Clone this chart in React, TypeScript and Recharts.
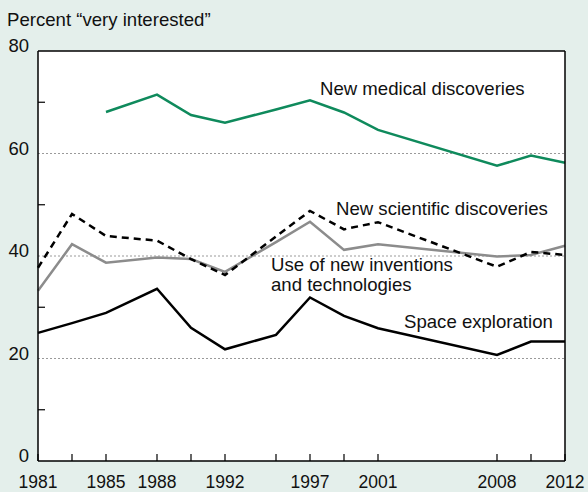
import { LineChart, Line, XAxis, YAxis, ReferenceLine } from 'recharts'

const years = [1981, 1983, 1985, 1988, 1990, 1992, 1995, 1997, 1999, 2001, 2008, 2010, 2012]
const labelledYears = [1981, 1985, 1988, 1992, 1997, 2001, 2008, 2012]
const medical = [null, null, 68.1, 71.5, 67.5, 66.0, 68.6, 70.4, 68.0, 64.6, 57.6, 59.6, 58.2]
const scientific = [37.7, 48.2, 43.9, 43.0, 39.4, 36.3, 43.8, 48.8, 45.2, 46.6, 37.9, 40.8, 40.2]
const inventions = [33.2, 42.3, 38.7, 39.7, 39.4, 36.9, 42.7, 46.7, 41.2, 42.3, 39.9, 40.2, 42.0]
const space = [25.0, 26.9, 28.9, 33.6, 26.0, 21.8, 24.6, 31.9, 28.3, 25.9, 20.7, 23.3, 23.3]
const yTicks = [0, 10, 20, 30, 40, 50, 60, 70, 80]
const gridValues = [20, 40, 60]

const data = years.map((year, i) => ({
  year,
  medical: medical[i],
  scientific: scientific[i],
  inventions: inventions[i],
  space: space[i],
}))

const font = '"Liberation Sans", Arial, sans-serif'

// eslint-disable-next-line @typescript-eslint/no-explicit-any
function XTick({ x, y, payload }: any) {
  const v = payload.value
  return (
    <g>
      <line x1={x} x2={x} y1={y} y2={y - 7} stroke="#000" strokeWidth={1.2} />
      {labelledYears.includes(v) && (
        <text x={x} y={y + 27} textAnchor="middle" fontSize={17.5} fontFamily={font} fill="#111">
          {v}
        </text>
      )}
    </g>
  )
}

// eslint-disable-next-line @typescript-eslint/no-explicit-any
function YTickLeft({ x, y, payload }: any) {
  const v = payload.value
  return (
    <g>
      {v % 20 !== 0 && <line x1={x} x2={x + 7} y1={y} y2={y} stroke="#000" strokeWidth={1.2} />}
      {v % 20 === 0 && (
        <text x={x - 9} y={y + 1} textAnchor="end" fontSize={18.5} fontFamily={font} fill="#111">
          {v}
        </text>
      )}
    </g>
  )
}

// eslint-disable-next-line @typescript-eslint/no-explicit-any
function YTickRight({ x, y, payload }: any) {
  const v = payload.value
  if (v % 20 === 0) return <g />
  return <line x1={x} x2={x - 7} y1={y} y2={y} stroke="#000" strokeWidth={1.2} />
}

const note = (left: number, top: number): React.CSSProperties => ({
  position: 'absolute',
  left,
  top,
  fontFamily: font,
  fontSize: 18.6,
  lineHeight: '20px',
  color: '#111',
  whiteSpace: 'nowrap',
})

export default function App() {
  return (
    <div style={{ position: 'absolute', left: 0, top: 0, width: 588, height: 492, background: '#e4efeb' }}>
      <div style={note(7, 10)}>Percent “very interested”</div>
      <LineChart width={588} height={492} data={data} margin={{ top: 51, right: 0, left: 0, bottom: 0 }}>
        <rect x={38} y={51} width={527} height={410} fill="#fff" />
        <XAxis
          dataKey="year"
          type="number"
          domain={[1981, 2012]}
          ticks={years}
          interval={0}
          height={31}
          tickSize={0}
          tickMargin={0}
          tickLine={false}
          axisLine={{ stroke: '#000', strokeWidth: 1.5 }}
          tick={<XTick />}
        />
        <YAxis
          yAxisId="l"
          domain={[0, 80]}
          ticks={yTicks}
          interval={0}
          width={38}
          tickSize={0}
          tickMargin={0}
          tickLine={false}
          axisLine={{ stroke: '#000', strokeWidth: 1.5 }}
          tick={<YTickLeft />}
        />
        <YAxis
          yAxisId="r"
          orientation="right"
          domain={[0, 80]}
          ticks={yTicks}
          interval={0}
          width={23}
          tickSize={0}
          tickMargin={0}
          tickLine={false}
          axisLine={{ stroke: '#000', strokeWidth: 1.5 }}
          tick={<YTickRight />}
        />
        {gridValues.map((g) => (
          <ReferenceLine key={g} yAxisId="l" y={g} stroke="#9a9a9a" strokeDasharray="2 2" strokeWidth={1} />
        ))}
        <ReferenceLine yAxisId="l" y={80} stroke="#000" strokeWidth={1.5} />
        <Line yAxisId="l" dataKey="inventions" stroke="#8c8c8c" strokeWidth={2.5} dot={false} isAnimationActive={false} />
        <Line yAxisId="l" dataKey="scientific" stroke="#000" strokeWidth={2.5} strokeDasharray="7 5" dot={false} isAnimationActive={false} />
        <Line yAxisId="l" dataKey="space" stroke="#000" strokeWidth={2.5} dot={false} isAnimationActive={false} />
        <Line yAxisId="l" dataKey="medical" stroke="#0f8a5c" strokeWidth={2.5} dot={false} isAnimationActive={false} />
      </LineChart>
      <div style={note(320, 79)}>New medical discoveries</div>
      <div style={note(336, 199)}>New scientific discoveries</div>
      <div style={note(271, 255)}>
        Use of new inventions
        <br />
        and technologies
      </div>
      <div style={note(404, 312)}>Space exploration</div>
    </div>
  )
}
